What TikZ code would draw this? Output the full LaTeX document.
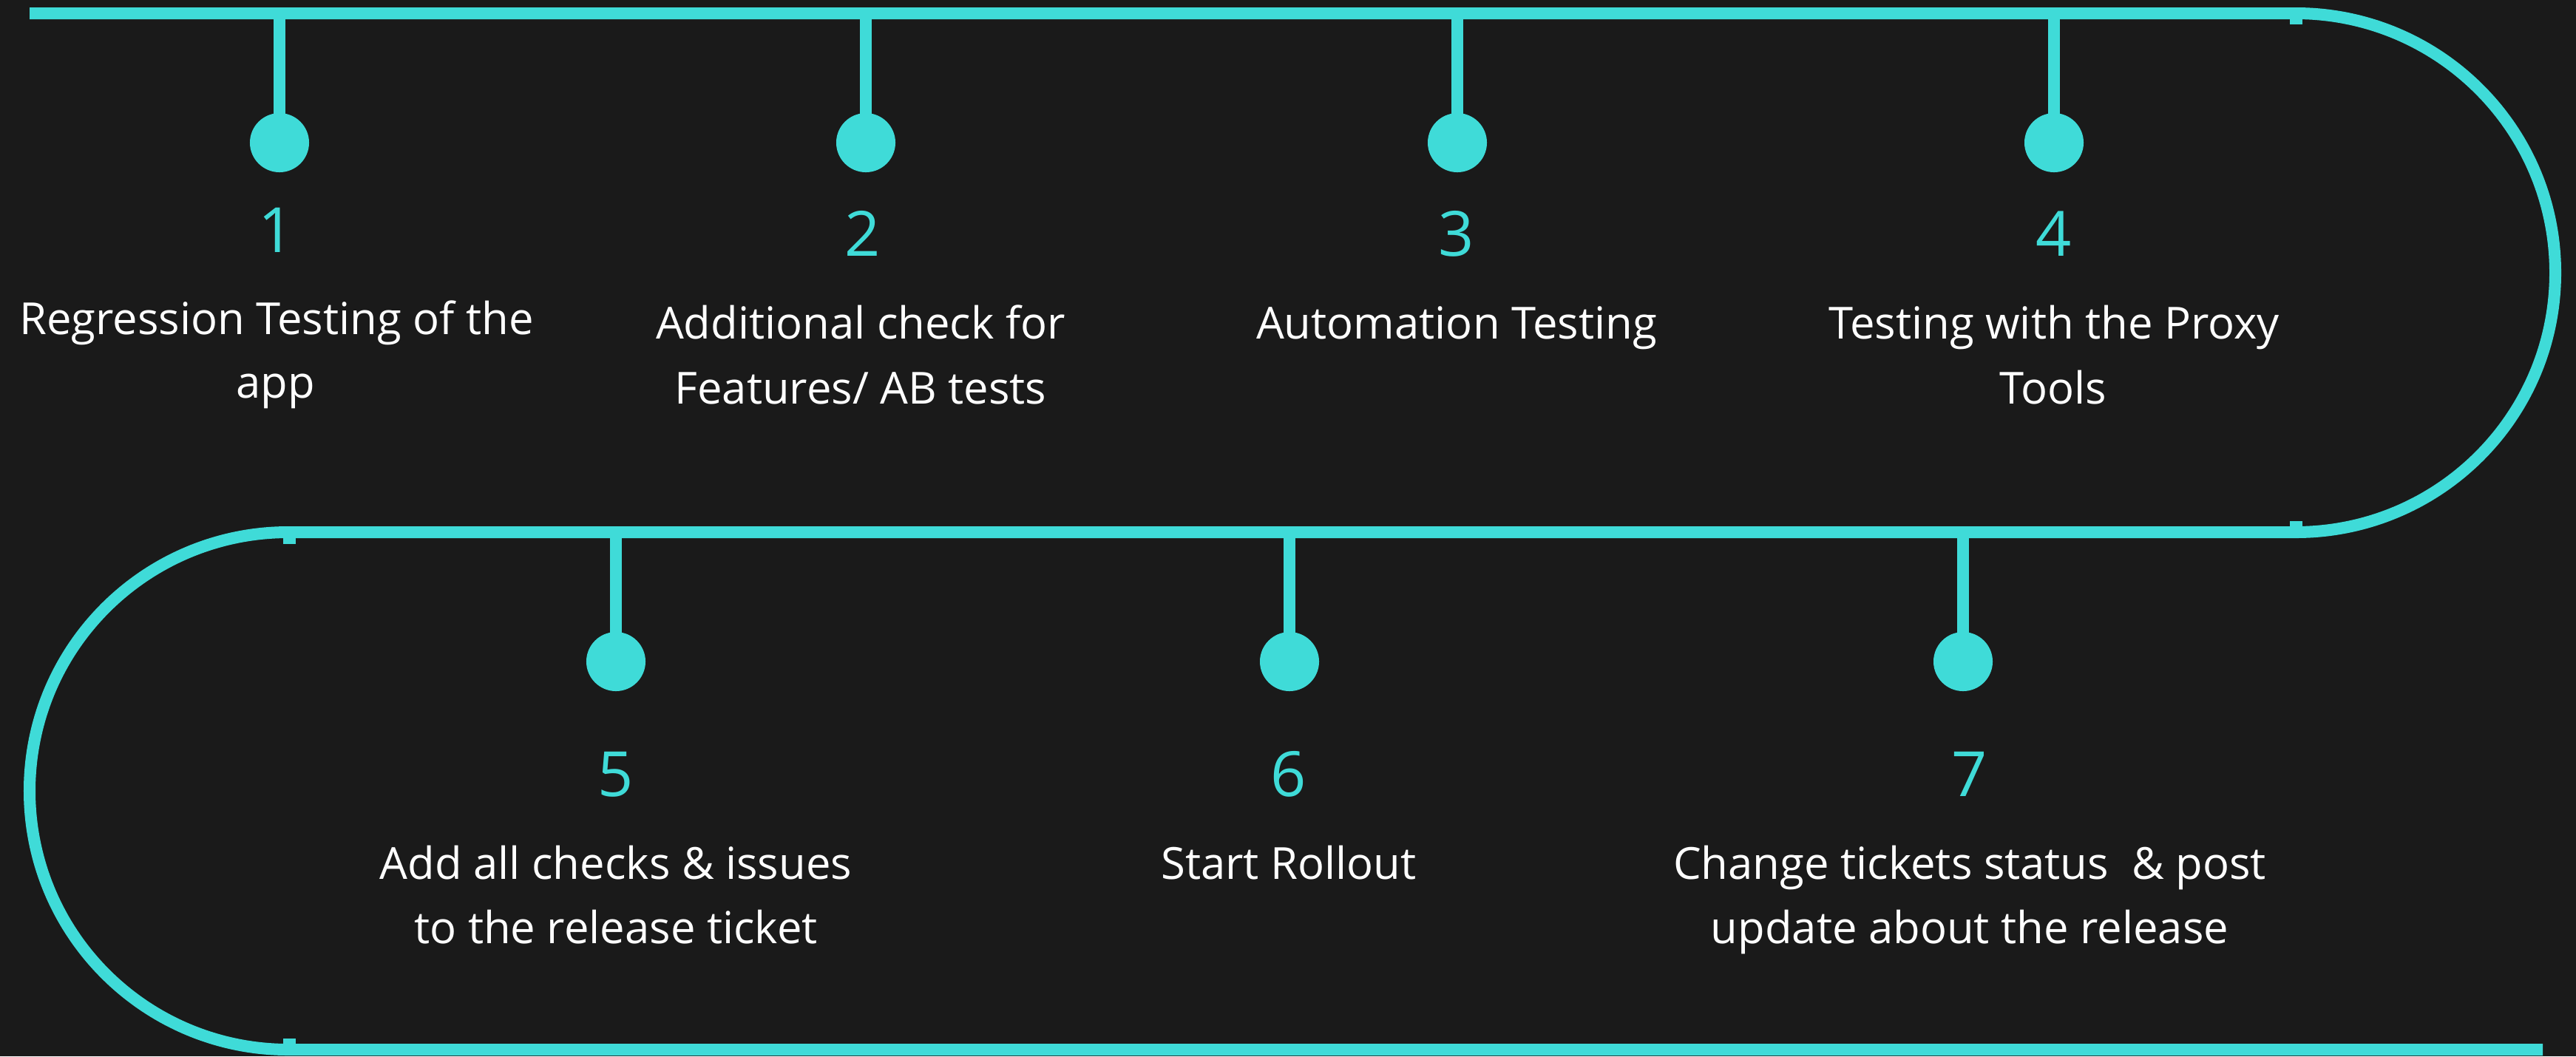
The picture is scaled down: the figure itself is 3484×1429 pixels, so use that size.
\documentclass[tikz,border=0pt]{standalone}
\usepackage{fontspec}
\setmainfont{Open Sans}
\definecolor{bgdark}{HTML}{1A1A1A}
\definecolor{tl}{HTML}{3FDBD8}
\begin{document}
\begin{tikzpicture}[x=0.01cm,y=-0.01cm,
  track/.style={draw=tl, line width=0.16cm},
  stemline/.style={draw=tl, line width=0.155cm},
  dot/.style={circle, fill=tl, minimum size=0.8cm, inner sep=0pt},
  num/.style={text=tl, font=\fontsize{24}{28}\selectfont, anchor=base, inner sep=0pt},
  lbl/.style={text=white, font=\fontsize{17}{20}\selectfont, anchor=base, inner sep=0pt},
  tick/.style={fill=tl}]
\fill[bgdark] (0,0) rectangle (3484,1429);
\useasboundingbox (0,0) rectangle (3484,1429);

% track
\draw[track] (40,18) -- (3105,18) arc[start angle=-90,end angle=90,radius=351]
  -- (390,720) arc[start angle=270,end angle=90,radius=350] -- (3439,1420);
\fill[tick] (3097,18) rectangle (3114,33);
\fill[tick] (3097,705) rectangle (3114,720);
\fill[tick] (383,720) rectangle (400,736);
\fill[tick] (383,1405) rectangle (400,1420);

% stem anchors on the track
\coordinate (s1) at (378,18);
\coordinate (s2) at (1171,18);
\coordinate (s3) at (1971,18);
\coordinate (s4) at (2778,18);
\coordinate (s5) at (833,720);
\coordinate (s6) at (1744,720);
\coordinate (s7) at (2655,720);

% dots
\node[dot] (d1) at (378,193) {};
\node[dot] (d2) at (1171,193) {};
\node[dot] (d3) at (1971,193) {};
\node[dot] (d4) at (2778,193) {};
\node[dot] (d5) at (833,895) {};
\node[dot] (d6) at (1744,895) {};
\node[dot] (d7) at (2655,895) {};

\foreach \i in {1,...,7} \draw[stemline] (s\i) -- (d\i.center);

% numbers
\node[num] (n1) at (374,341) {1};
\node[num] (n2) at (1167,346) {2};
\node[num] (n3) at (1970,346) {3};
\node[num] (n4) at (2778,346) {4};
\node[num] (n5) at (833,1077) {5};
\node[num] (n6) at (1743,1077) {6};
\node[num] (n7) at (2664,1077) {7};

% labels
\node[lbl] (t1a) at (374,452) {Regression Testing of the};
\node[lbl] (t1b) at (373,538) {app};
\node[lbl] (t2a) at (1164,458) {Additional check for};
\node[lbl] (t2b) at (1164,546) {Features/ AB tests};
\node[lbl] (t3a) at (1970,458) {Automation Testing};
\node[lbl] (t4a) at (2778,458) {Testing with the Proxy};
\node[lbl] (t4b) at (2777,546) {Tools};
\node[lbl] (t5a) at (833,1189) {Add all checks \& issues};
\node[lbl] (t5b) at (833,1276) {to the release ticket};
\node[lbl] (t6a) at (1743,1189) {Start Rollout};
\node[lbl] (t7a) at (2664,1189) {Change tickets status\ \ \& post};
\node[lbl] (t7b) at (2664,1276) {update about the release};
\end{tikzpicture}
\end{document}
